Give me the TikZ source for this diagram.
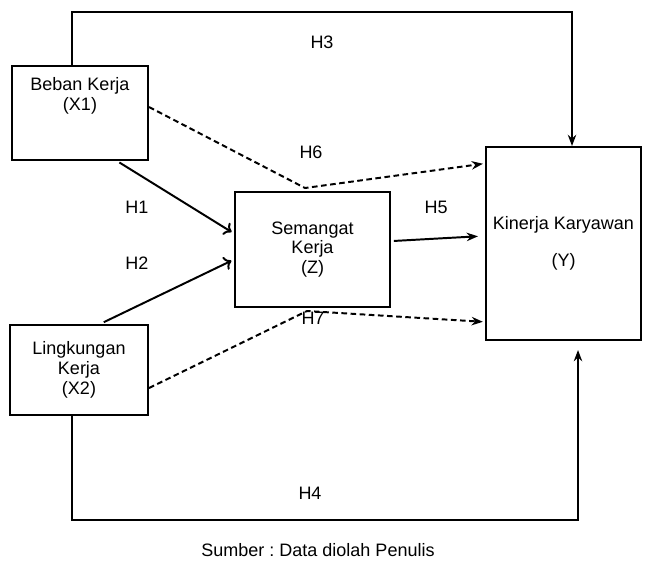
\documentclass[tikz,border=0pt]{standalone}
\usepackage{fontspec}
\setmainfont{Liberation Sans}
\usetikzlibrary{positioning,arrows.meta}

\begin{document}
\begin{tikzpicture}[x=0.025cm,y=-0.025cm,font=\fontsize{12.8}{14}\selectfont]
        \useasboundingbox (0,0) rectangle (648,562);
        \begin{scope}[every node/.style={draw,line width=1.4pt,align=center,inner sep=0pt}]
                \node[minimum width=3.4cm,minimum height=2.35cm] (X1) at (80,113) {};
                \node[minimum width=3.875cm,minimum height=2.875cm] (Z) at (312.5,249.5) {Semangat\\Kerja\\(Z)};
                \node[minimum width=3.875cm,minimum height=4.825cm] (Y) at (563.5,243.5) {Kinerja Karyawan\\[12pt](Y)};
                \node[minimum width=3.45cm,minimum height=2.25cm] (X2) at (79,370) {Lingkungan\\Kerja\\(X2)};
        \end{scope}
        \begin{scope}[every node/.style={align=center,inner sep=1pt}]
                \node (X1t) at (80,96) {Beban Kerja\\(X1)};

                \node (H1) at (137,207) {H1};
                \node (H2) at (137,263) {H2};
                \node (H3) at (322,42) {H3};
                \node (H4) at (310,493) {H4};
                \node (H5) at (436,207) {H5};
                \node (H6) at (311,152) {H6};
                \node (H7) at (313,318) {H7};

                \node (src) at (318,550) {Sumber :\ Data diolah Penulis};
        \end{scope}

        \coordinate (c3) at (572,12);
        \coordinate (c4) at (578,520);
        \coordinate (k6) at (305,188);
        \coordinate (k7) at (307,311);

        \begin{scope}[every path/.style={line width=1.4pt}]
                \draw[-{Stealth[length=8pt,width=6pt]}] ([xshift=-0.2cm]X1.north) |- (c3) -- (c3 |- Y.north);
                \draw[-{Stealth[length=8pt,width=6pt]}] ([xshift=-0.175cm]X2.south) |- (c4) -- ([yshift=-0.225cm]Y.south -| c4);

                \draw[-{To[length=5pt,width=10pt]},shorten <=2pt,shorten >=2pt] ([xshift=0.925cm]X1.south) -- ([yshift=0.4cm]Z.west);
                \draw[-{To[length=5pt,width=10pt]},shorten <=3pt,shorten >=2pt] ([xshift=0.525cm]X2.north) -- ([yshift=-0.25cm]Z.west);
                \draw[-{Stealth[length=8pt,width=6pt]},shorten <=2pt,shorten >=5pt] ([yshift=0.21cm]Z.east) -- ([yshift=0.19cm]Y.west);

                \draw[dash pattern=on 4pt off 2.5pt,-{Stealth[length=8pt,width=6pt]},shorten >=1.5pt] ([yshift=0.15cm]X1.east) -- (k6) -- ([yshift=2cm]Y.west);
                \draw[dash pattern=on 4pt off 2.5pt,-{Stealth[length=8pt,width=6pt]},shorten >=1.5pt] ([yshift=-0.45cm]X2.east) -- (k7) -- ([yshift=-1.96cm]Y.west);
        \end{scope}
\end{tikzpicture}
\end{document}
